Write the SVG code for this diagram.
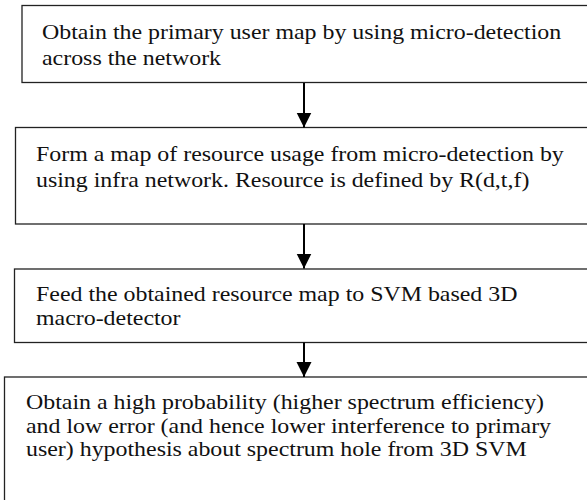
<svg xmlns="http://www.w3.org/2000/svg" width="587" height="500" viewBox="0 0 587 500">
  <style>
    .box { fill: #ffffff; stroke: #222222; stroke-width: 1.3; }
    .label { font-family: "Liberation Serif", "Times New Roman", serif; font-size: 20px; fill: #111111; }
    .link { stroke: #000000; stroke-width: 2; fill: none; }
  </style>
  <defs>
    <marker id="arrowhead" markerUnits="userSpaceOnUse" markerWidth="16" markerHeight="16" refX="15" refY="7.5" orient="auto">
      <path d="M0,0 L15,7.5 L0,15 Z" fill="#000000"/>
    </marker>
  </defs>
  <rect width="587" height="500" fill="#ffffff"/>

  <!-- text is set in a widened face: each line is scaled 1.195x horizontally from its start point -->
  <g id="step-primary-user-map">
    <rect class="box" x="22" y="5.5" width="600" height="77"/>
    <text class="label" transform="matrix(1.195 0 0 1 42 38.5)">Obtain the primary user map by using micro-detection</text>
    <text class="label" transform="matrix(1.195 0 0 1 42 65)">across the network</text>
  </g>

  <g id="step-resource-map">
    <rect class="box" x="15.5" y="127.5" width="600" height="96.5"/>
    <text class="label" transform="matrix(1.195 0 0 1 36 160.5)">Form a map of resource usage from micro-detection by</text>
    <text class="label" transform="matrix(1.195 0 0 1 36 187)">using infra network. Resource is defined by R(d,t,f)</text>
  </g>

  <g id="step-svm-feed">
    <rect class="box" x="14.5" y="269" width="600" height="73.5"/>
    <text class="label" transform="matrix(1.195 0 0 1 36 300.5)">Feed the obtained resource map to SVM based 3D</text>
    <text class="label" transform="matrix(1.195 0 0 1 36 325)">macro-detector</text>
  </g>

  <g id="step-spectrum-hole">
    <rect class="box" x="4.5" y="377" width="600" height="140"/>
    <text class="label" transform="matrix(1.195 0 0 1 26 408.5)">Obtain a high probability (higher spectrum efficiency)</text>
    <text class="label" transform="matrix(1.195 0 0 1 26 432.5)">and low error (and hence lower interference to primary</text>
    <text class="label" transform="matrix(1.195 0 0 1 26 456)">user) hypothesis about spectrum hole from 3D SVM</text>
  </g>

  <g id="connectors">
    <line class="link" x1="304" y1="83" x2="304" y2="127.5" marker-end="url(#arrowhead)"/>
    <line class="link" x1="304" y1="224" x2="304" y2="268.5" marker-end="url(#arrowhead)"/>
    <line class="link" x1="304" y1="342.5" x2="304" y2="377" marker-end="url(#arrowhead)"/>
  </g>
</svg>
